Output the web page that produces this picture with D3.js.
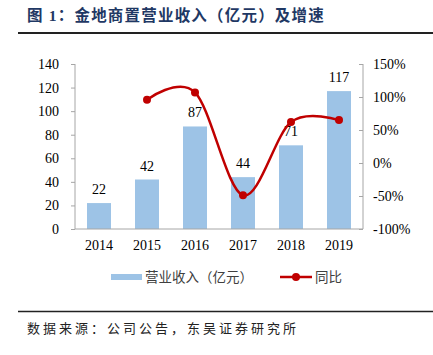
<!DOCTYPE html>
<html><head><meta charset="utf-8">
<script src="https://cdn.jsdelivr.net/npm/d3@7"></script>
<style>body{margin:0;background:#fff;}svg{display:block;}</style>
</head><body>
<script>
const years = ["2014","2015","2016","2017","2018","2019"];
const revenue = [22, 42, 87, 44, 71, 117];
const growth = [null, 96, 107, -49, 62, 65];
const leftTicks = [0,20,40,60,80,100,120,140];
const rightTicks = [-100,-50,0,50,100,150];

const W=433,H=355;
const svg=d3.select("body").append("svg").attr("width",W).attr("height",H);
const serif='"Liberation Serif","Times New Roman",serif';
const cjk='"Noto Sans CJK SC","Noto Sans",sans-serif';

// title
svg.append("text").attr("x",27).attr("y",21).attr("font-family",serif+","+cjk)
  .attr("font-size",15.5).attr("font-weight","bold").attr("fill","#1F3864")
  .attr("letter-spacing",1.2).text("图 1：金地商置营业收入（亿元）及增速");
svg.append("line").attr("x1",18).attr("x2",433).attr("y1",33).attr("y2",33)
  .attr("stroke","#222").attr("stroke-width",2);

const x=d3.scaleBand().domain(years).range([75,363]).paddingInner(0.5).paddingOuter(0.25);
const yL=d3.scaleLinear().domain([0,140]).range([229,64]);
const yR=d3.scaleLinear().domain([-100,150]).range([229,64]);

// bars
svg.selectAll("rect.bar").data(revenue).join("rect").attr("class","bar")
  .attr("x",(d,i)=>x(years[i])).attr("width",x.bandwidth())
  .attr("y",d=>yL(d)).attr("height",d=>yL(0)-yL(d)).attr("fill","#9DC3E6");

// left axis
const gL=svg.append("g").attr("transform","translate(75,0)")
  .call(d3.axisLeft(yL).tickValues(leftTicks).tickSize(4).tickPadding(12));
gL.select(".domain").attr("stroke","#A6A6A6").attr("d","M0,64V229");
gL.selectAll(".tick line").attr("stroke","#A6A6A6");
gL.selectAll("text").attr("font-family",serif).attr("font-size",14).attr("fill","#000");

// right axis
const gR=svg.append("g").attr("transform","translate(363,0)")
  .call(d3.axisRight(yR).tickValues(rightTicks).tickSize(0).tickPadding(10).tickFormat(d=>d+"%"));
gR.select(".domain").attr("stroke","#A6A6A6").attr("d","M0,64V229");
gR.selectAll(".tick").append("line").attr("x1",-4).attr("x2",0).attr("stroke","#A6A6A6");
gR.selectAll("text").attr("font-family",serif).attr("font-size",14).attr("fill","#000");

// x axis
const gX=svg.append("g").attr("transform","translate(0,229)")
  .call(d3.axisBottom(x).tickSize(0).tickPadding(11));
gX.select(".domain").attr("stroke","#A6A6A6").attr("d","M75,0H363");
gX.selectAll("text").attr("font-family",serif).attr("font-size",14).attr("fill","#000");

// bar labels
svg.selectAll("text.lbl").data(revenue).join("text").attr("class","lbl")
  .attr("x",(d,i)=>x(years[i])+x.bandwidth()/2).attr("y",d=>yL(d)-9)
  .attr("text-anchor","middle").attr("font-family",serif).attr("font-size",14)
  .text(d=>d);

// line
const pts=growth.map((g,i)=>({x:x(years[i])+x.bandwidth()/2,g})).filter(p=>p.g!==null);
const line=d3.line().x(p=>p.x).y(p=>yR(p.g)).curve(d3.curveCardinal.tension(0));
svg.append("path").datum(pts).attr("d",line).attr("fill","none")
  .attr("stroke","#C00000").attr("stroke-width",2.5);
svg.selectAll("circle.pt").data(pts).join("circle").attr("class","pt")
  .attr("cx",p=>p.x).attr("cy",p=>yR(p.g)).attr("r",4).attr("fill","#C00000");

// legend
svg.append("rect").attr("x",111).attr("y",274).attr("width",31).attr("height",6).attr("fill","#9DC3E6");
svg.append("text").attr("x",145).attr("y",282).attr("font-family",cjk).attr("font-size",13.5)
  .attr("fill","#404040").text("营业收入（亿元）");
svg.append("line").attr("x1",280).attr("x2",312).attr("y1",277).attr("y2",277)
  .attr("stroke","#C00000").attr("stroke-width",2.5);
svg.append("circle").attr("cx",296).attr("cy",277).attr("r",4).attr("fill","#C00000");
svg.append("text").attr("x",315).attr("y",282).attr("font-family",cjk).attr("font-size",13.5)
  .attr("fill","#404040").text("同比");

// source
svg.append("line").attr("x1",18).attr("x2",433).attr("y1",311.5).attr("y2",311.5)
  .attr("stroke","#222").attr("stroke-width",1.5);
svg.append("text").attr("x",27).attr("y",333).attr("font-family",cjk).attr("font-size",13)
  .attr("letter-spacing",3).attr("fill","#222").text("数据来源：公司公告，东吴证券研究所");
</script>
</body></html>
